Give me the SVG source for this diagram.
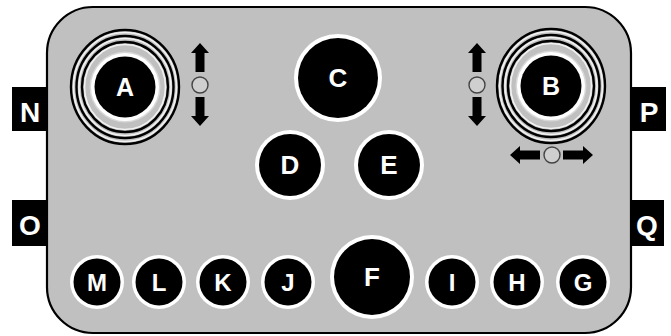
<svg xmlns="http://www.w3.org/2000/svg" xmlns:xlink="http://www.w3.org/1999/xlink" width="671" height="336" viewBox="0 0 671 336">
<style>
.lbl{font-family:"Liberation Sans",Arial,sans-serif;font-weight:bold;fill:#fff;text-anchor:middle}
.box{fill:#000}
.ring{fill:none;stroke:#000;stroke-width:2.4}
.hl{fill:none;stroke:#f2f2f2;stroke-width:1.6}
.wring{fill:#fff}
.disc{fill:#000}
.arr{fill:#000}
.dot{fill:#cfcfcf;stroke:#444;stroke-width:1.4}
</style>
<defs>
<g id="vArrow">
<polygon class="arr" points="0,-42 9,-32 4.5,-32 4.5,-13 -4.5,-13 -4.5,-32 -9,-32"/>
<polygon class="arr" points="0,41 9,31 4.5,31 4.5,12 -4.5,12 -4.5,31 -9,31"/>
<circle class="dot" cx="0" cy="0" r="8"/>
</g>
<g id="stick">
<ellipse class="ring" cx="0" cy="0" rx="54" ry="57"/>
<ellipse class="hl" cx="0" cy="0" rx="51.5" ry="54.5"/>
<ellipse class="ring" cx="0" cy="0" rx="48.5" ry="51"/>
<ellipse class="hl" cx="0" cy="0" rx="46" ry="48.5"/>
<ellipse class="ring" cx="0" cy="0" rx="43" ry="45"/>
<ellipse class="hl" cx="0" cy="0" rx="40.5" ry="42.5"/>
<circle cx="0" cy="0" r="35.5" fill="#d8d8d8"/>
<circle cx="0" cy="0" r="34" fill="#fff"/>
<circle class="disc" cx="0" cy="0" r="30.5"/>
</g>
</defs>

<g id="body">
<rect x="47" y="7" width="584" height="326" rx="46" ry="46" fill="#c0c0c0" stroke="#000" stroke-width="2.2"/>
</g>

<g id="label-N"><rect class="box" x="12" y="87" width="35" height="44"/><text class="lbl" x="30" y="122" font-size="28">N</text></g>
<g id="label-O"><rect class="box" x="12" y="200" width="35" height="46"/><text class="lbl" x="30" y="235" font-size="28">O</text></g>
<g id="label-P"><rect class="box" x="631" y="87" width="35" height="44"/><text class="lbl" x="649" y="122" font-size="28">P</text></g>
<g id="label-Q"><rect class="box" x="631" y="200" width="33" height="46"/><text class="lbl" x="647" y="235" font-size="28">Q</text></g>

<g id="btn-A"><use xlink:href="#stick" x="125" y="87"/><text class="lbl" x="125" y="96" font-size="25">A</text></g>
<g id="btn-B"><use xlink:href="#stick" x="551" y="86"/><text class="lbl" x="551" y="95" font-size="25">B</text></g>

<g id="btn-C"><circle class="wring" cx="338" cy="78" r="44"/><circle class="disc" cx="338" cy="78" r="40"/><text class="lbl" x="338" y="87" font-size="26">C</text></g>
<g id="btn-D"><circle class="wring" cx="290" cy="165" r="35"/><circle class="disc" cx="290" cy="165" r="31"/><text class="lbl" x="290" y="174" font-size="26">D</text></g>
<g id="btn-E"><circle class="wring" cx="389" cy="165" r="35"/><circle class="disc" cx="389" cy="165" r="31"/><text class="lbl" x="389" y="174" font-size="26">E</text></g>
<g id="btn-F"><circle class="wring" cx="372" cy="277" r="42"/><circle class="disc" cx="372" cy="277" r="38"/><text class="lbl" x="372" y="286" font-size="26">F</text></g>

<g id="btn-M"><circle class="wring" cx="97" cy="282" r="27"/><circle class="disc" cx="97" cy="282" r="23.5"/><text class="lbl" x="97" y="291" font-size="24">M</text></g>
<g id="btn-L"><circle class="wring" cx="159" cy="282" r="27"/><circle class="disc" cx="159" cy="282" r="23.5"/><text class="lbl" x="159" y="291" font-size="24">L</text></g>
<g id="btn-K"><circle class="wring" cx="223" cy="282" r="27"/><circle class="disc" cx="223" cy="282" r="23.5"/><text class="lbl" x="223" y="291" font-size="24">K</text></g>
<g id="btn-J"><circle class="wring" cx="288" cy="282" r="27"/><circle class="disc" cx="288" cy="282" r="23.5"/><text class="lbl" x="288" y="291" font-size="24">J</text></g>
<g id="btn-I"><circle class="wring" cx="452" cy="282" r="27"/><circle class="disc" cx="452" cy="282" r="23.5"/><text class="lbl" x="452" y="291" font-size="24">I</text></g>
<g id="btn-H"><circle class="wring" cx="517" cy="282" r="27"/><circle class="disc" cx="517" cy="282" r="23.5"/><text class="lbl" x="517" y="291" font-size="24">H</text></g>
<g id="btn-G"><circle class="wring" cx="583" cy="282" r="27"/><circle class="disc" cx="583" cy="282" r="23.5"/><text class="lbl" x="583" y="291" font-size="24">G</text></g>

<g id="connectors">
<use xlink:href="#vArrow" x="200" y="85"/>
<use xlink:href="#vArrow" x="477" y="85"/>
<g id="hArrow">
<polygon class="arr" points="510,155 520,146 520,150.5 540,150.5 540,159.5 520,159.5 520,164"/>
<polygon class="arr" points="593,155 583,146 583,150.5 563,150.5 563,159.5 583,159.5 583,164"/>
<circle class="dot" cx="552" cy="155" r="8"/>
</g>
</g>
</svg>
